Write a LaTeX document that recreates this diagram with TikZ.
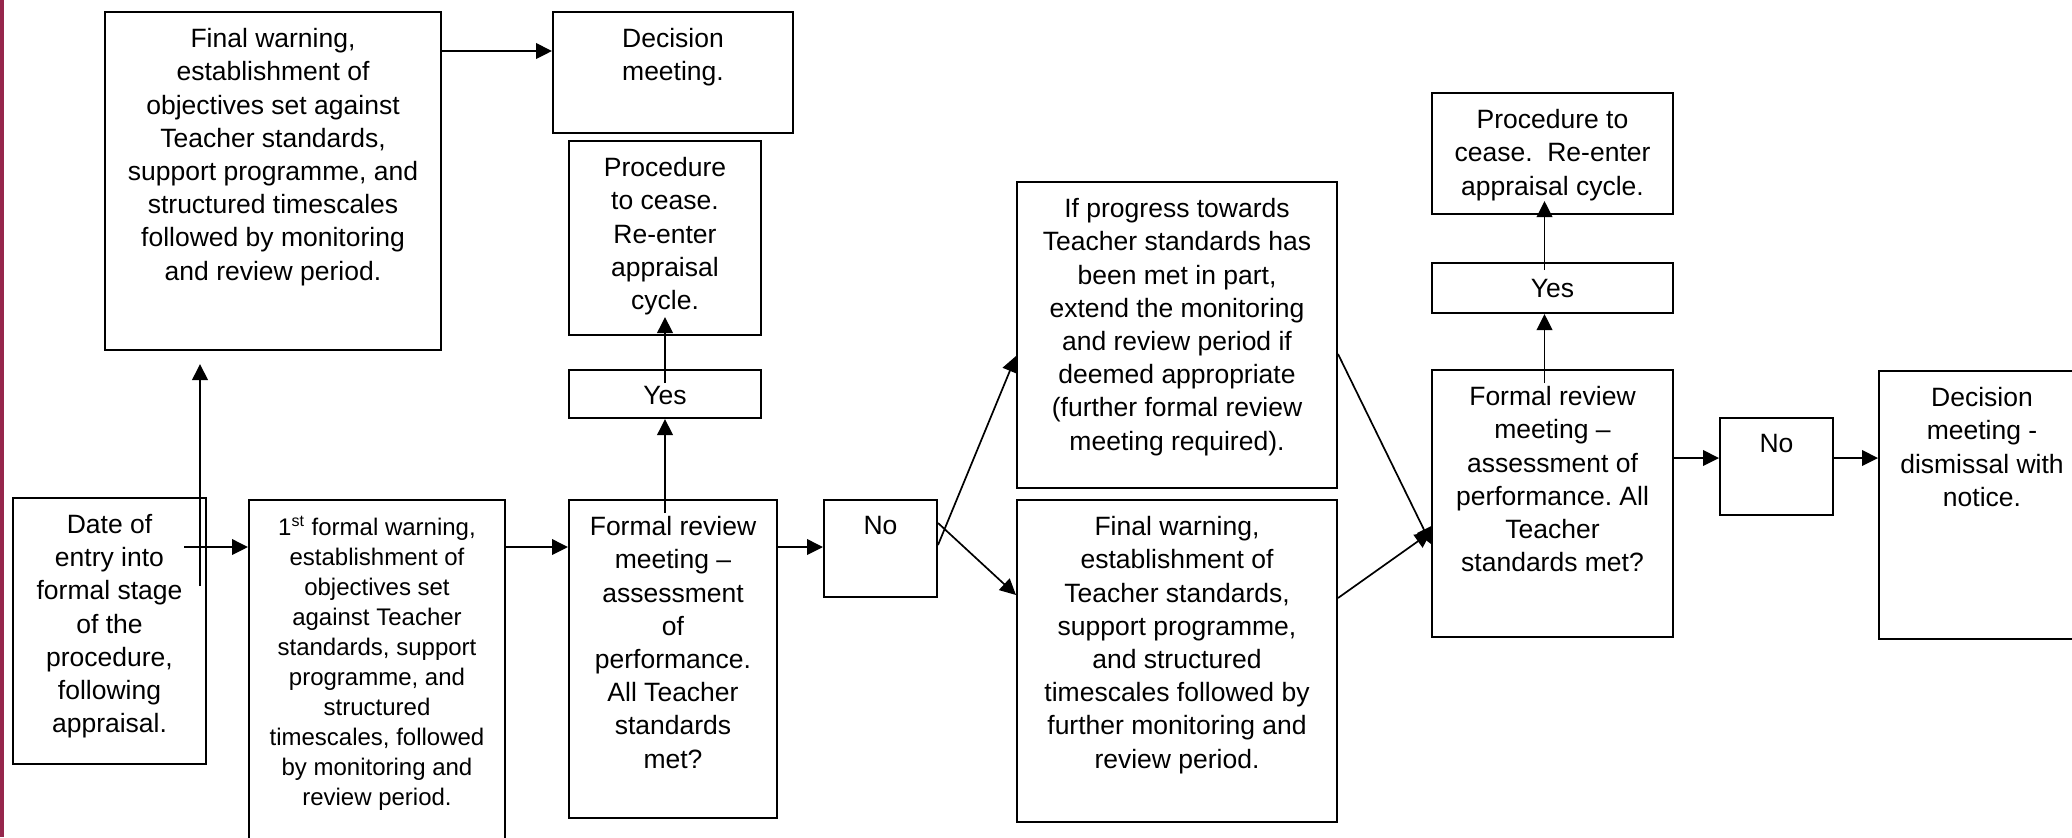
\documentclass[tikz,border=0pt]{standalone}
\usepackage{fontspec}
\setmainfont{Liberation Sans}
\usetikzlibrary{arrows.meta,calc}
\definecolor{barred}{RGB}{150,38,76}
\frenchspacing
\begin{document}
\begin{tikzpicture}[x=0.5pt,y=-0.5pt,
  box/.style={draw, line width=1pt, inner sep=0pt, anchor=north west},
  txt/.style={anchor=north, yshift=-8.5pt, align=center, inner sep=0pt, font=\fontsize{13.25pt}{16.6pt}\selectfont},
  txts/.style={txt, font=\fontsize{12pt}{15pt}\selectfont},
  arr/.style={line width=0.85pt, -{Triangle[length=8pt,width=7.8pt]}}]
\useasboundingbox (0,0) rectangle (2072,837);
\clip (0,0) rectangle (2072,837);
\fill[white] (0,0) rectangle (2072,837);
\fill[barred] (0,0) rectangle (4,837);

% boxes
\node[box, minimum width=168pt, minimum height=169pt,
  label={[txt,name=At]north:{Final warning,\\establishment of\\objectives set against\\Teacher standards,\\support programme, and\\structured timescales\\followed by monitoring\\and review period.}}] (A) at (104,11) {};
\node[box, minimum width=120pt, minimum height=60.5pt,
  label={[txt,name=Bt]north:{Decision\\meeting.}}] (B) at (552,11) {};
\node[box, minimum width=96pt, minimum height=97pt,
  label={[txt,name=Ct]north:{Procedure\\to cease.\\Re-enter\\appraisal\\cycle.}}] (C) at (568,140) {};
\node[box, minimum width=96pt, minimum height=24pt,
  label={[txt,name=Dt]north:{Yes}}] (D) at (568,369) {};
\node[box, minimum width=96.5pt, minimum height=133pt,
  label={[txt,name=Et]north:{Date of\\entry into\\formal stage\\of the\\procedure,\\following\\appraisal.}}] (E) at (12,497) {};
\node[box, minimum width=128pt, minimum height=180pt,
  label={[txts,name=Ft]north:{1\textsuperscript{st} formal warning,\\establishment of\\objectives set\\against Teacher\\standards, support\\programme, and\\structured\\timescales, followed\\by monitoring and\\review period.}}] (F) at (248,499) {};
\node[box, minimum width=104pt, minimum height=159pt,
  label={[txt,name=Gt]north:{Formal review\\meeting –\\assessment\\of\\performance.\\All Teacher\\standards\\met?}}] (G) at (568,499) {};
\node[box, minimum width=56.5pt, minimum height=48.5pt,
  label={[txt,name=Ht]north:{No}}] (H) at (823,499) {};
\node[box, minimum width=160pt, minimum height=153pt,
  label={[txt,name=It]north:{If progress towards\\Teacher standards has\\been met in part,\\extend the monitoring\\and review period if\\deemed appropriate\\(further formal review\\meeting required).}}] (I) at (1016,181) {};
\node[box, minimum width=160pt, minimum height=161pt,
  label={[txt,name=Jt]north:{Final warning,\\establishment of\\Teacher standards,\\support programme,\\and structured\\timescales followed by\\further monitoring and\\review period.}}] (J) at (1016,499) {};
\node[box, minimum width=120.5pt, minimum height=133.5pt,
  label={[txt,name=Kt]north:{Formal review\\meeting –\\assessment of\\performance. All\\Teacher\\standards met?}}] (K) at (1431,369) {};
\node[box, minimum width=120.5pt, minimum height=25pt,
  label={[txt,name=Lt]north:{Yes}}] (L) at (1431,262) {};
\node[box, minimum width=120.5pt, minimum height=60.5pt,
  label={[txt,name=Mt]north:{Procedure to\\cease.\ \ Re-enter\\appraisal cycle.}}] (M) at (1431,92) {};
\node[box, minimum width=56.5pt, minimum height=48.5pt,
  label={[txt,name=Nt]north:{No}}] (N) at (1719,417) {};
\node[box, minimum width=103pt, minimum height=134pt,
  label={[txt,name=Ot]north:{Decision\\meeting -\\dismissal with\\notice.}}] (O) at (1878,370) {};

% connectors
\coordinate (e1) at ($(E.north west)+(172,50)$);
\draw[arr] (e1) -- (e1 -| F.west);
\coordinate (e2) at ($(E.north west)+(188,89)$);
\coordinate (a1) at ($(A.south west)+(96,13)$);
\draw[arr] (e2) -- (a1);
\draw[arr] ($(A.north east)+(0,40)$) -- ($(B.north west)+(0,40)$);
\draw[arr] ($(F.north east)+(0,48)$) -- ($(G.north west)+(0,48)$);
\draw[arr] ($(G.north east)+(0,48)$) -- ($(H.north west)+(0,48)$);
\coordinate (g0) at (D.south |- G.north);
\draw[arr] ($(g0)+(0,14)$) -- (D.south);
\draw[arr] ($(D.north)+(0,14)$) -- ($(C.south)+(0,-19)$);
\draw[arr] ($(H.north east)+(0,46)$) -- ($(I.west)+(0,21)$);
\draw[arr] ($(H.north east)+(0,24)$) -- ($(J.north west)+(0,96)$);
\draw[arr] ($(I.north east)+(0,173)$) -- ($(K.north west)+(0,175)$);
\draw[arr] ($(J.north east)+(0,99)$) -- ($(K.north west)+(0,163)$);
\draw[arr] ($(K.north)+(-8,14)$) -- ($(L.south)+(-8,0)$);
\draw[arr] ($(L.north)+(-8,8)$) -- ($(M.south)+(-8,-14)$);
\draw[arr] ($(K.north east)+(0,89)$) -- ($(N.north west)+(0,41)$);
\draw[arr] ($(N.north east)+(0,41)$) -- ($(O.north west)+(0,88)$);
\end{tikzpicture}
\end{document}
